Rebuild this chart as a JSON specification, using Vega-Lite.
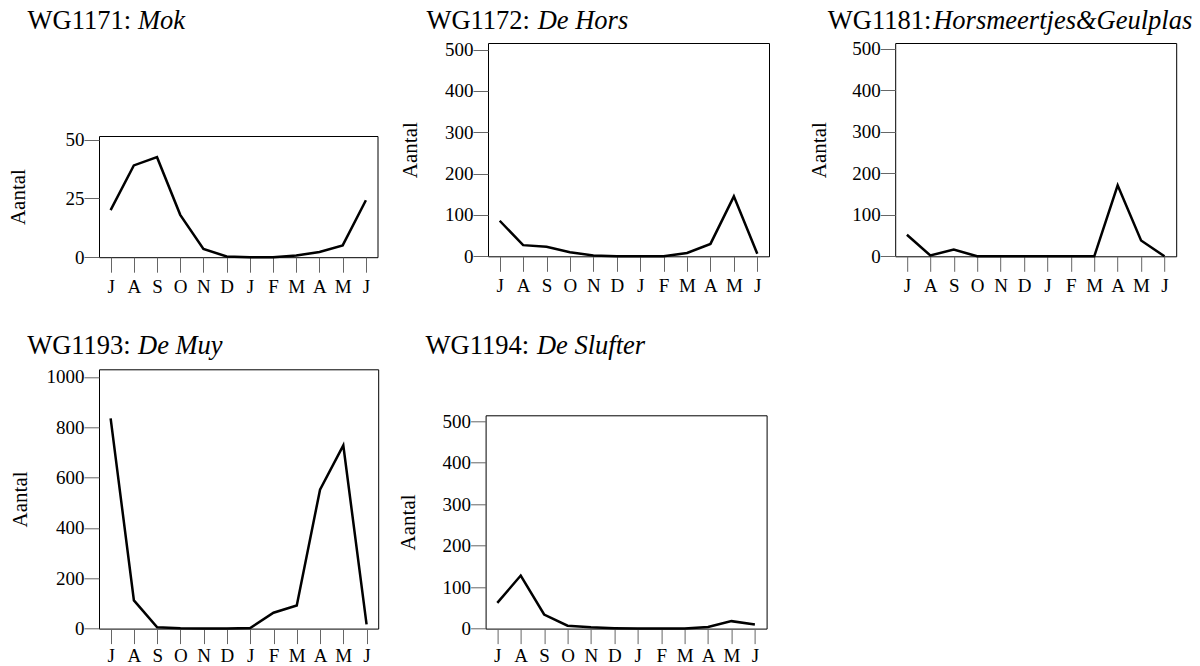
{
  "$schema": "https://vega.github.io/schema/vega-lite/v6.json",
  "padding": {"left": 7, "top": 7, "right": 0, "bottom": 0},
  "data": {
    "values": [
      {"gebied": "WG1171", "maand": "jul", "aantal": 20},
      {"gebied": "WG1171", "maand": "aug", "aantal": 39},
      {"gebied": "WG1171", "maand": "sep", "aantal": 42.5},
      {"gebied": "WG1171", "maand": "okt", "aantal": 18},
      {"gebied": "WG1171", "maand": "nov", "aantal": 3.5},
      {"gebied": "WG1171", "maand": "dec", "aantal": 0.3},
      {"gebied": "WG1171", "maand": "jan", "aantal": 0},
      {"gebied": "WG1171", "maand": "feb", "aantal": 0},
      {"gebied": "WG1171", "maand": "mrt", "aantal": 0.7},
      {"gebied": "WG1171", "maand": "apr", "aantal": 2.2},
      {"gebied": "WG1171", "maand": "mei", "aantal": 5},
      {"gebied": "WG1171", "maand": "jun", "aantal": 24.2},
      {"gebied": "WG1172", "maand": "jul", "aantal": 86},
      {"gebied": "WG1172", "maand": "aug", "aantal": 27},
      {"gebied": "WG1172", "maand": "sep", "aantal": 23},
      {"gebied": "WG1172", "maand": "okt", "aantal": 10},
      {"gebied": "WG1172", "maand": "nov", "aantal": 2},
      {"gebied": "WG1172", "maand": "dec", "aantal": 0},
      {"gebied": "WG1172", "maand": "jan", "aantal": 0},
      {"gebied": "WG1172", "maand": "feb", "aantal": 0},
      {"gebied": "WG1172", "maand": "mrt", "aantal": 8},
      {"gebied": "WG1172", "maand": "apr", "aantal": 30},
      {"gebied": "WG1172", "maand": "mei", "aantal": 145},
      {"gebied": "WG1172", "maand": "jun", "aantal": 6},
      {"gebied": "WG1181", "maand": "jul", "aantal": 52},
      {"gebied": "WG1181", "maand": "aug", "aantal": 2},
      {"gebied": "WG1181", "maand": "sep", "aantal": 16},
      {"gebied": "WG1181", "maand": "okt", "aantal": 0},
      {"gebied": "WG1181", "maand": "nov", "aantal": 0},
      {"gebied": "WG1181", "maand": "dec", "aantal": 0},
      {"gebied": "WG1181", "maand": "jan", "aantal": 0},
      {"gebied": "WG1181", "maand": "feb", "aantal": 0},
      {"gebied": "WG1181", "maand": "mrt", "aantal": 0},
      {"gebied": "WG1181", "maand": "apr", "aantal": 171},
      {"gebied": "WG1181", "maand": "mei", "aantal": 38},
      {"gebied": "WG1181", "maand": "jun", "aantal": 0},
      {"gebied": "WG1193", "maand": "jul", "aantal": 835},
      {"gebied": "WG1193", "maand": "aug", "aantal": 112},
      {"gebied": "WG1193", "maand": "sep", "aantal": 5},
      {"gebied": "WG1193", "maand": "okt", "aantal": 1},
      {"gebied": "WG1193", "maand": "nov", "aantal": 0},
      {"gebied": "WG1193", "maand": "dec", "aantal": 0},
      {"gebied": "WG1193", "maand": "jan", "aantal": 2},
      {"gebied": "WG1193", "maand": "feb", "aantal": 63},
      {"gebied": "WG1193", "maand": "mrt", "aantal": 92},
      {"gebied": "WG1193", "maand": "apr", "aantal": 552},
      {"gebied": "WG1193", "maand": "mei", "aantal": 728},
      {"gebied": "WG1193", "maand": "jun", "aantal": 17},
      {"gebied": "WG1194", "maand": "jul", "aantal": 62},
      {"gebied": "WG1194", "maand": "aug", "aantal": 128},
      {"gebied": "WG1194", "maand": "sep", "aantal": 34},
      {"gebied": "WG1194", "maand": "okt", "aantal": 7},
      {"gebied": "WG1194", "maand": "nov", "aantal": 3},
      {"gebied": "WG1194", "maand": "dec", "aantal": 1},
      {"gebied": "WG1194", "maand": "jan", "aantal": 0},
      {"gebied": "WG1194", "maand": "feb", "aantal": 0},
      {"gebied": "WG1194", "maand": "mrt", "aantal": 0},
      {"gebied": "WG1194", "maand": "apr", "aantal": 4},
      {"gebied": "WG1194", "maand": "mei", "aantal": 18},
      {"gebied": "WG1194", "maand": "jun", "aantal": 10}
    ]
  },
  "vconcat": [
    {
      "hconcat": [
        {
          "hconcat": [
            {
              "vconcat": [
                {
                  "title": {"text": "Mok", "subtitle": "WG1171:", "offset": 8.2, "dx": -71.5, "encoding": {"dx": {"value": 39}}},
                  "width": 278.5, "height": 86.5,
                  "data": {"values": []},
                  "mark": {"type": "point", "opacity": 0},
                  "view": {"stroke": null, "fill": "transparent"}
                },
                {
                  "width": 278.5, "height": 121.2,
                  "transform": [{"filter": "datum.gebied == 'WG1171'"}],
                  "mark": {"type": "line", "color": "black", "strokeWidth": 2.5},
                  "encoding": {
                    "x": {"field": "maand", "type": "ordinal", "sort": ["jul","aug","sep","okt","nov","dec","jan","feb","mrt","apr","mei","jun"], "scale": {"type": "point", "padding": 0.5}, "axis": {"title": null, "labelExpr": "upper(slice(datum.label,0,1))"}},
                    "y": {"field": "aantal", "type": "quantitative", "scale": {"domain": [0, 51.5], "nice": false}, "axis": {"title": "Aantal", "values": [0, 25, 50], "format": "d", "titleX": -80.5}}
                  }
                }
              ],
              "spacing": 0
            },
            {
              "title": {"text": "De Hors", "subtitle": "WG1172:", "offset": 5.8, "dx": -61.6, "encoding": {"dx": {"value": 49.7}}},
              "width": 281, "height": 213.3,
              "transform": [{"filter": "datum.gebied == 'WG1172'"}],
              "mark": {"type": "line", "color": "black", "strokeWidth": 2.5},
              "encoding": {
                "x": {"field": "maand", "type": "ordinal", "sort": ["jul","aug","sep","okt","nov","dec","jan","feb","mrt","apr","mei","jun"], "scale": {"type": "point", "padding": 0.5}, "axis": {"title": null, "labelExpr": "upper(slice(datum.label,0,1))"}},
                "y": {"field": "aantal", "type": "quantitative", "scale": {"domain": [0, 516], "nice": false}, "axis": {"title": "Aantal", "values": [0, 100, 200, 300, 400, 500], "format": "d", "titleX": -77.8}}
              }
            }
          ],
          "spacing": 20
        },
        {
          "title": {"text": "Horsmeertjes&Geulplas", "subtitle": "WG1181:", "offset": 5.0, "dx": -67.4, "encoding": {"dx": {"value": 38}}},
          "width": 281, "height": 213.3,
          "transform": [{"filter": "datum.gebied == 'WG1181'"}],
          "mark": {"type": "line", "color": "black", "strokeWidth": 2.5},
          "encoding": {
            "x": {"field": "maand", "type": "ordinal", "sort": ["jul","aug","sep","okt","nov","dec","jan","feb","mrt","apr","mei","jun"], "scale": {"type": "point", "padding": 0.5}, "axis": {"title": null, "labelExpr": "upper(slice(datum.label,0,1))"}},
            "y": {"field": "aantal", "type": "quantitative", "scale": {"domain": [0, 514], "nice": false}, "axis": {"title": "Aantal", "values": [0, 100, 200, 300, 400, 500], "format": "d", "titleX": -76.2}}
          }
        }
      ],
      "spacing": 37.2
    },
    {
      "hconcat": [
        {
          "title": {"text": "De Muy", "subtitle": "WG1193:", "offset": 8.75, "dx": -71.8, "encoding": {"dx": {"value": 39}}},
          "width": 279.2, "height": 259.3,
          "transform": [{"filter": "datum.gebied == 'WG1193'"}],
          "mark": {"type": "line", "color": "black", "strokeWidth": 2.5},
          "encoding": {
            "x": {"field": "maand", "type": "ordinal", "sort": ["jul","aug","sep","okt","nov","dec","jan","feb","mrt","apr","mei","jun"], "scale": {"type": "point", "padding": 0.5}, "axis": {"title": null, "labelPadding": 2.5, "labelExpr": "upper(slice(datum.label,0,1))"}},
            "y": {"field": "aantal", "type": "quantitative", "scale": {"domain": [0, 1030], "nice": false}, "axis": {"title": "Aantal", "values": [0, 200, 400, 600, 800, 1000], "format": "d", "titleX": -79}}
          }
        },
        {
          "vconcat": [
            {
              "title": {"text": "De Slufter", "subtitle": "WG1194:", "offset": 10.2, "dx": -60, "encoding": {"dx": {"value": 51.3}}},
              "width": 281, "height": 41.7,
              "data": {"values": []},
              "mark": {"type": "point", "opacity": 0},
              "view": {"stroke": null, "fill": "transparent"}
            },
            {
              "width": 281, "height": 213.3,
              "transform": [{"filter": "datum.gebied == 'WG1194'"}],
              "mark": {"type": "line", "color": "black", "strokeWidth": 2.5},
              "encoding": {
                "x": {"field": "maand", "type": "ordinal", "sort": ["jul","aug","sep","okt","nov","dec","jan","feb","mrt","apr","mei","jun"], "scale": {"type": "point", "padding": 0.5}, "axis": {"title": null, "labelPadding": 2.5, "labelExpr": "upper(slice(datum.label,0,1))"}},
                "y": {"field": "aantal", "type": "quantitative", "scale": {"domain": [0, 514.5], "nice": false}, "axis": {"title": "Aantal", "values": [0, 100, 200, 300, 400, 500], "format": "d", "titleX": -77.2}}
              }
            }
          ],
          "spacing": 0
        }
      ],
      "spacing": 17.6
    }
  ],
  "spacing": 34.3,
  "config": {
    "font": "Liberation Serif",
    "view": {"stroke": "black", "strokeWidth": 1},
    "axis": {
      "grid": false, "domain": false,
      "tickColor": "#666666", "tickSize": 15, "tickWidth": 1,
      "labelColor": "black", "labelFontSize": 19, "labelFont": "Liberation Serif",
      "titleFontSize": 21, "titleFontWeight": "normal", "titleColor": "black", "titleFont": "Liberation Serif"
    },
    "axisX": {"labelAngle": 0, "labelPadding": 5, "labelOverlap": false},
    "axisY": {"labelPadding": 0, "titleAngle": -90, "titleBaseline": "middle", "titleAlign": "center"},
    "title": {
      "font": "Liberation Serif", "fontSize": 26.5, "fontStyle": "italic", "fontWeight": "normal", "color": "black",
      "anchor": "start", "frame": "group", "baseline": "top",
      "subtitleFont": "Liberation Serif", "subtitleFontSize": 26.5, "subtitleFontStyle": "normal", "subtitleFontWeight": "normal", "subtitleColor": "black",
      "subtitlePadding": -26.5
    }
  }
}
